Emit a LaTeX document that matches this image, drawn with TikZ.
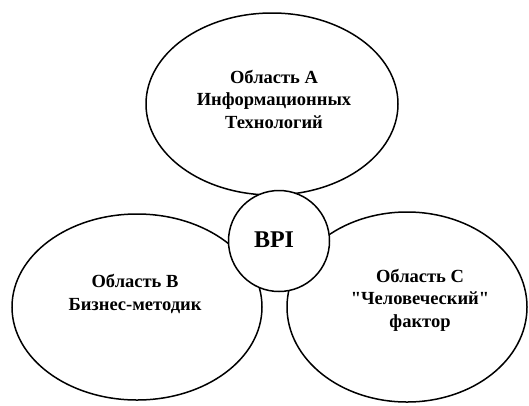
\documentclass[tikz,border=0pt]{standalone}
\usepackage{fontspec}
\setmainfont{Liberation Serif}[Ligatures=TeXOff]
\begin{document}
\begin{tikzpicture}[x=1pt,y=-1pt,
  area/.style={line width=1.5pt, fill=white},
  lbl/.style={font=\fontsize{18.5}{22.5}\selectfont\bfseries, align=center},
  hub/.style={draw=black, line width=1.5pt, fill=white, circle, minimum size=101pt, inner sep=0pt},
  hubtext/.style={font=\fontsize{24}{28}\selectfont\bfseries}]
\useasboundingbox[fill=white] (0,0) rectangle (529,405);
\draw[area] (272,104) ellipse [x radius=126, y radius=91];
\draw[area] (137,307) ellipse [x radius=125, y radius=93];
\draw[area] (407,307) ellipse [x radius=120, y radius=95];
\node[lbl] (ta) at (274,99) {Область А\\Информационных\\Технологий};
\node[lbl] (tb) at (135,294) {Область В\\Бизнес-методик};
\node[lbl] (tc) at (420,300) {Область С\\"Человеческий"\\фактор};
\node[hub] (bpi) at (279,241) {};
\node[hubtext] (bpit) at (274,240) {BPI};
\end{tikzpicture}
\end{document}
